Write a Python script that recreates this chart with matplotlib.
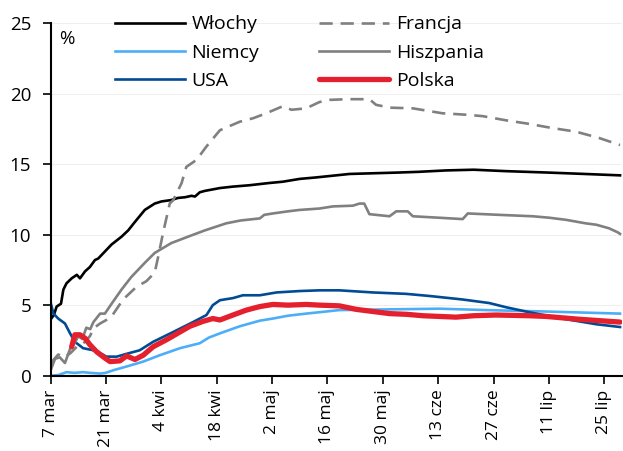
import matplotlib
matplotlib.use("Agg")
import matplotlib.pyplot as plt

# days since 7 mar 2020, values in %
wlochy_days = [0, 0.8, 1.5, 2.6, 3.2, 4, 5.3, 6.6, 7.4, 8.7, 9.9, 11.2, 12, 13.7, 15.4, 17.9, 19.6,
               21.3, 23.8, 26.3, 28, 30.5, 32.2, 34, 35.6, 36.5, 37.7, 39, 42.8, 46, 50.3, 55,
               58.7, 63, 67, 75.6, 88, 93, 100, 107, 115, 125.6, 135, 144]
wlochy = [4.0, 4.3, 4.9, 5.1, 6.1, 6.55, 6.9, 7.15, 6.9, 7.4, 7.7, 8.2, 8.3, 8.8, 9.3, 9.85, 10.3,
          10.9, 11.75, 12.2, 12.35, 12.45, 12.6, 12.65, 12.75, 12.7, 13.0, 13.1, 13.3, 13.4, 13.5,
          13.65, 13.75, 13.95, 14.05, 14.3, 14.4, 14.45, 14.55, 14.6, 14.5, 14.4, 14.3, 14.2]

francja_days = [0, 1.9, 3.5, 5, 6.6, 8, 9.9, 11, 12.5, 14.1, 15.4, 18.3, 21.7, 24.2, 26.3, 27.2,
                28.4, 30.1, 31, 33.1, 34.3, 36.9, 39.4, 42.8, 47.8, 51.2, 54.5, 58.7, 60.9, 64.6,
                68, 70.5, 75, 80.6, 82.3, 85.7, 91.6, 99.1, 105, 109.2, 115.2, 121, 126.9, 132.8,
                138.7, 144]
francja = [0.9, 1.5, 1.3, 1.6, 2.05, 2.2, 2.8, 3.4, 3.7, 3.95, 4.2, 5.4, 6.3, 6.7, 7.3, 8.45,
           10.1, 12.2, 12.45, 13.65, 14.8, 15.3, 16.25, 17.4, 18.0, 18.25, 18.6, 19.1, 18.85,
           18.95, 19.4, 19.55, 19.6, 19.6, 19.2, 19.0, 18.95, 18.6, 18.5, 18.4, 18.1, 17.85,
           17.55, 17.3, 16.85, 16.35]

hiszpania_days = [0, 1.1, 2.3, 3.6, 4.9, 6, 7, 8, 9, 10, 10.8, 12.5, 13.7, 15.4, 17.9, 20.4,
                  23.8, 26.3, 30.5, 34.7, 39, 44.4, 48, 52.9, 54, 56.2, 60, 63, 68, 71.4, 76.4,
                  78.1, 79.3, 80.6, 85.7, 87.4, 90.3, 91.6, 98, 104.2, 105.5, 113.5, 121.9, 126,
                  130.3, 135.3, 138, 141.2, 143.5, 144]
hiszpania = [0.4, 1.2, 1.3, 0.9, 1.9, 2.3, 2.8, 2.6, 3.4, 3.3, 3.8, 4.4, 4.4, 5.1, 6.1, 7.0,
             8.0, 8.7, 9.4, 9.85, 10.3, 10.8, 11.0, 11.15, 11.4, 11.5, 11.65, 11.75, 11.85, 12.0,
             12.05, 12.2, 12.2, 11.45, 11.3, 11.65, 11.65, 11.3, 11.2, 11.1, 11.5, 11.4, 11.3,
             11.2, 11.05, 10.8, 10.7, 10.45, 10.15, 10.05]

niemcy_days = [0, 2, 4, 6, 8.2, 10, 12.5, 13.9, 16, 19.2, 23.4, 27.6, 32.7, 37.7, 40, 42.8,
               47.8, 52.9, 56.2, 60, 64.6, 68, 73, 85.7, 98.3, 110, 125, 144]
niemcy = [0.0, 0.05, 0.25, 0.2, 0.25, 0.2, 0.15, 0.2, 0.4, 0.65, 1.0, 1.45, 1.95, 2.3, 2.7, 3.0,
          3.5, 3.9, 4.05, 4.25, 4.4, 4.5, 4.65, 4.7, 4.75, 4.65, 4.55, 4.4]

usa_days = [0, 0.7, 1.9, 3.6, 4.9, 6.1, 8.2, 10.8, 12.5, 14.1, 16.7, 19.2, 22.5, 25.9, 31, 36,
            39.4, 41, 42.8, 46.1, 48.6, 52.9, 57.1, 63, 68, 73, 81.5, 89.9, 95.8, 104.2, 110.9,
            115.2, 121, 129.4, 137.9, 144]
usa = [5.15, 4.4, 4.05, 3.7, 3.0, 2.4, 1.95, 1.8, 1.6, 1.35, 1.35, 1.55, 1.8, 2.4, 3.1, 3.8,
       4.3, 5.0, 5.35, 5.5, 5.7, 5.7, 5.9, 6.0, 6.05, 6.05, 5.9, 5.8, 5.65, 5.4, 5.15, 4.85, 4.5,
       4.05, 3.65, 3.45]

polska_days = [5.3, 6.1, 7.4, 8.7, 9.9, 11.6, 13.7, 15, 17.5, 19.2, 21.3, 23.4, 25.9, 29.3,
               32.7, 35.2, 38.5, 41, 42.8, 46.1, 49.5, 52.9, 56.2, 60, 64.6, 68, 73, 77.3, 81.5,
               85.7, 90, 94.1, 98.3, 102.5, 107, 112.6, 121, 125.3, 133.6, 144]
polska = [2.05, 2.9, 2.9, 2.65, 2.2, 1.7, 1.25, 1.0, 1.05, 1.4, 1.15, 1.45, 2.05, 2.55, 3.1, 3.5,
          3.85, 4.05, 3.95, 4.3, 4.65, 4.9, 5.05, 5.0, 5.05, 5.0, 4.95, 4.7, 4.55, 4.4, 4.35,
          4.25, 4.2, 4.15, 4.25, 4.3, 4.25, 4.2, 4.0, 3.8]

tick_days = [0, 14, 28, 42, 56, 70, 84, 98, 112, 126, 140]
tick_labels = ["7 mar", "21 mar", "4 kwi", "18 kwi", "2 maj", "16 maj", "30 maj",
               "13 cze", "27 cze", "11 lip", "25 lip"]

plt.rcParams["font.family"] = ["Open Sans", "DejaVu Sans"]

fig = plt.figure(figsize=(6.23, 4.51), dpi=100)
ax = fig.add_axes([0.0814, 0.167, 0.917, 0.782])

ax.plot(wlochy_days, wlochy, color="black", lw=1.9, label="Włochy")
ax.plot(niemcy_days, niemcy, color="#4DAEF8", lw=1.9, label="Niemcy")
ax.plot(usa_days, usa, color="#004B93", lw=1.9, label="USA")
ax.plot(francja_days, francja, color="#808080", lw=1.9, ls=(0, (5, 3)), label="Francja")
ax.plot(hiszpania_days, hiszpania, color="#808080", lw=1.9, label="Hiszpania")
ax.plot(polska_days, polska, color="#E4202E", lw=3.8, label="Polska", solid_capstyle="round")

ax.set_xlim(0, 144.5)
ax.set_ylim(0, 25)
ax.set_yticks([0, 5, 10, 15, 20, 25])
ax.set_xticks(tick_days)
ax.set_xticklabels(tick_labels, rotation=90)
ax.tick_params(axis="x", labelsize=12.5, length=6, width=1.2, direction="out", pad=4)
ax.tick_params(axis="y", labelsize=13.5, length=6, width=1.2, direction="out", pad=8)
ax.grid(axis="y", color="#efefef", lw=0.8)
ax.set_axisbelow(True)
for side in ["top", "right"]:
    ax.spines[side].set_visible(False)
for side in ["left", "bottom"]:
    ax.spines[side].set_linewidth(1.5)

ax.text(0.015, 0.98, "%", transform=ax.transAxes, fontsize=13.5, va="top", ha="left")

fig.legend(*ax.get_legend_handles_labels(), ncol=2, loc="upper left",
           bbox_to_anchor=(0.184, 0.966), frameon=False,
           fontsize=14, handlelength=3.6, handletextpad=0.35, columnspacing=3.1,
           labelspacing=0.53, borderpad=0, borderaxespad=0)

fig.savefig("out.png", dpi=100)
